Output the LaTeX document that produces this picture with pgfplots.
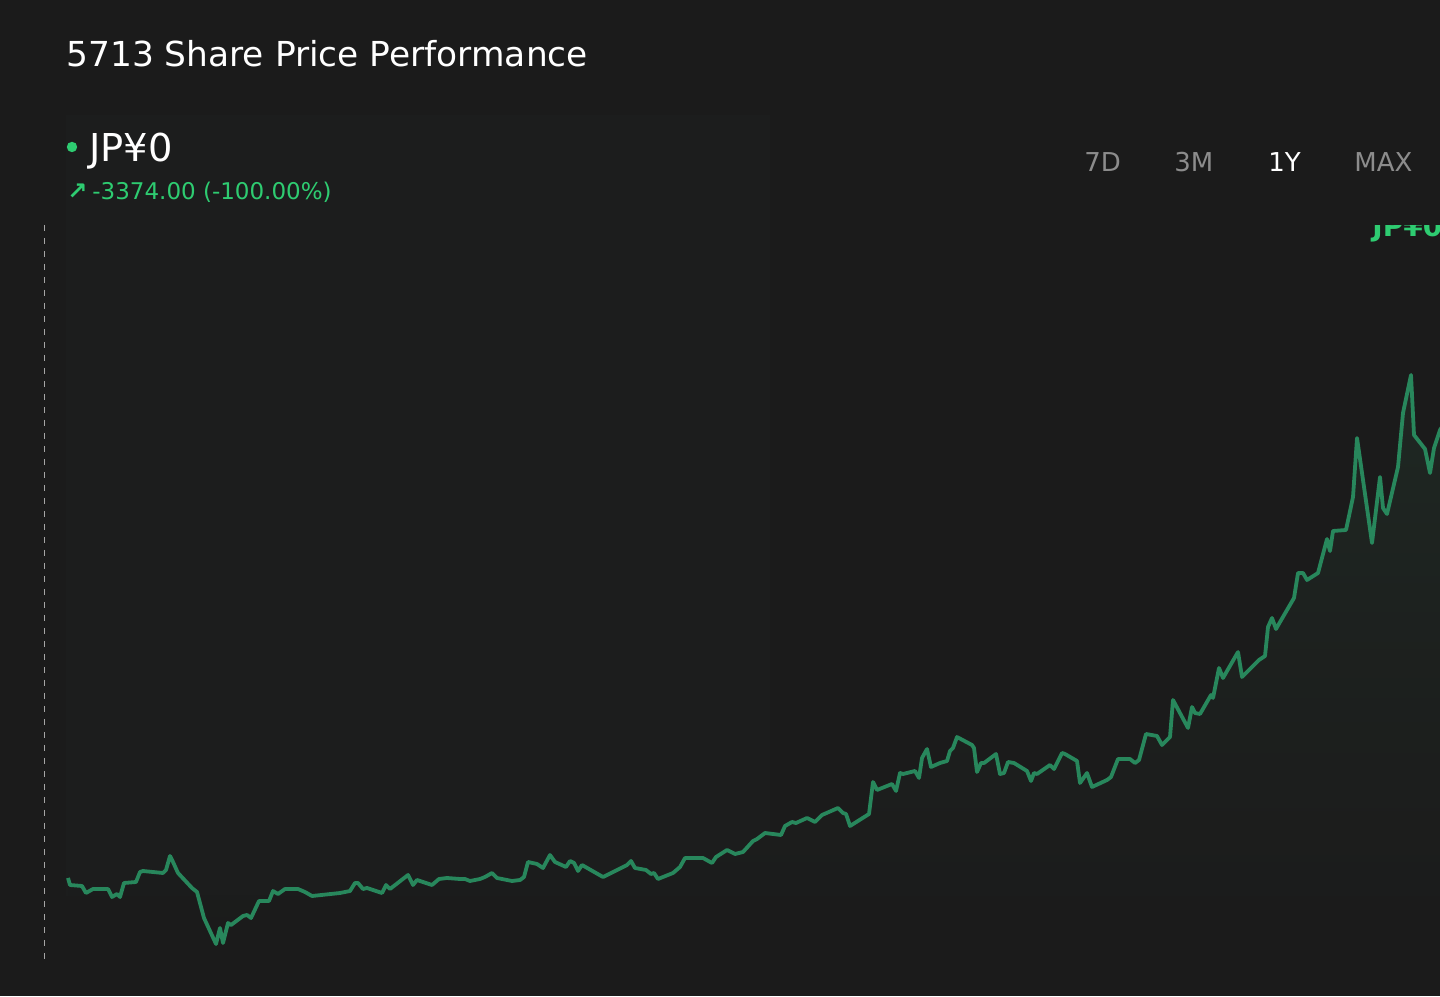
\documentclass[border=0pt]{standalone}
\usepackage{pgfplots}
\pgfplotsset{compat=1.18}
\usepackage{fontspec}
\setmainfont{DejaVu Sans}
\definecolor{bg}{RGB}{27,27,27}
\definecolor{bgl}{RGB}{28,29,29}
\definecolor{linec}{RGB}{40,135,92}
\definecolor{txtg}{RGB}{46,204,113}
\definecolor{btn}{RGB}{140,140,140}
\definecolor{areac}{RGB}{31,40,35}
\begin{document}
\begin{tikzpicture}[x=0.5pt,y=0.5pt]
\fill[bg] (0,0) rectangle (1440,996);
\fill[bgl] (66,881) rectangle (770,100);
\begin{axis}[at={(0,0)}, anchor=south west, scale only axis,
  width=720pt, height=498pt, xmin=0, xmax=1440, ymin=0, ymax=996,
  hide axis, clip=true]
\addplot[draw=none, top color=areac, bottom color=bg, middle color=bg!60!areac, shading angle=0] coordinates {
(68,118)(70,111)(82,110)(86,103)(93,107)(108,107)(112,99)(117,102)(120,99)(124,113)
(136,114)(140,124)(143,125)(163,123)(166,126)(170,140)(173,134)(178,123)(192,108)(197,104)
(204,78)(216,52)(220,68)(223,53)(228,73)(231,71)(243,80)(247,81)(251,78)(259,95)
(269,95)(273,105)(278,102)(285,107)(298,107)(305,104)(312,100)(340,103)(350,105)(355,113)
(358,113)(363,107)(367,108)(382,103)(386,111)(390,107)(408,121)(413,111)(417,116)(432,111)
(439,117)(447,118)(460,117)(465,117)(470,115)(480,117)(485,119)(492,123)(497,118)(512,115)
(520,116)(524,119)(528,134)(537,132)(543,128)(550,141)(555,134)(566,129)(570,135)(574,133)
(578,125)(582,131)(603,119)(627,131)(631,135)(635,128)(646,126)(651,122)(654,123)(658,117)
(673,123)(680,129)(685,138)(703,138)(712,133)(716,139)(727,146)(735,142)(743,144)(753,155)
(757,157)(765,163)(781,161)(785,170)(792,174)(796,173)(807,178)(815,174)(822,181)(838,188)
(843,183)(846,182)(850,170)(869,182)(873,214)(877,206)(892,212)(896,205)(900,223)(903,222)
(915,225)(919,218)(922,238)(927,247)(931,229)(940,233)(947,235)(950,245)(953,248)(957,259)
(972,251)(974,248)(977,224)(981,233)(984,233)(996,242)(1000,222)(1004,223)(1008,234)(1014,233)
(1027,225)(1031,215)(1034,223)(1037,222)(1050,231)(1054,227)(1062,243)(1065,242)(1077,235)(1080,213)
(1087,223)(1092,209)(1107,216)(1111,219)(1118,237)(1130,237)(1135,233)(1139,236)(1146,262)(1157,260)
(1162,251)(1170,259)(1173,296)(1188,268)(1192,289)(1195,283)(1200,282)(1211,301)(1213,298)(1219,328)
(1223,318)(1238,344)(1242,319)(1259,336)(1265,340)(1268,369)(1272,378)(1276,367)(1280,374)(1294,398)
(1298,423)(1303,423)(1307,416)(1318,423)(1327,457)(1330,445)(1333,465)(1346,466)(1353,499)(1357,558)
(1372,453)(1380,519)(1383,488)(1387,482)(1398,529)(1403,583)(1411,621)(1414,561)(1425,547)(1430,523)
(1434,548)(1440,566)(1446,575)(1446,100)(68,100)
};
\addplot[linec, line width=1.9pt, line join=round] coordinates {
(68,118)(70,111)(82,110)(86,103)(93,107)(108,107)(112,99)(117,102)(120,99)(124,113)
(136,114)(140,124)(143,125)(163,123)(166,126)(170,140)(173,134)(178,123)(192,108)(197,104)
(204,78)(216,52)(220,68)(223,53)(228,73)(231,71)(243,80)(247,81)(251,78)(259,95)
(269,95)(273,105)(278,102)(285,107)(298,107)(305,104)(312,100)(340,103)(350,105)(355,113)
(358,113)(363,107)(367,108)(382,103)(386,111)(390,107)(408,121)(413,111)(417,116)(432,111)
(439,117)(447,118)(460,117)(465,117)(470,115)(480,117)(485,119)(492,123)(497,118)(512,115)
(520,116)(524,119)(528,134)(537,132)(543,128)(550,141)(555,134)(566,129)(570,135)(574,133)
(578,125)(582,131)(603,119)(627,131)(631,135)(635,128)(646,126)(651,122)(654,123)(658,117)
(673,123)(680,129)(685,138)(703,138)(712,133)(716,139)(727,146)(735,142)(743,144)(753,155)
(757,157)(765,163)(781,161)(785,170)(792,174)(796,173)(807,178)(815,174)(822,181)(838,188)
(843,183)(846,182)(850,170)(869,182)(873,214)(877,206)(892,212)(896,205)(900,223)(903,222)
(915,225)(919,218)(922,238)(927,247)(931,229)(940,233)(947,235)(950,245)(953,248)(957,259)
(972,251)(974,248)(977,224)(981,233)(984,233)(996,242)(1000,222)(1004,223)(1008,234)(1014,233)
(1027,225)(1031,215)(1034,223)(1037,222)(1050,231)(1054,227)(1062,243)(1065,242)(1077,235)(1080,213)
(1087,223)(1092,209)(1107,216)(1111,219)(1118,237)(1130,237)(1135,233)(1139,236)(1146,262)(1157,260)
(1162,251)(1170,259)(1173,296)(1188,268)(1192,289)(1195,283)(1200,282)(1211,301)(1213,298)(1219,328)
(1223,318)(1238,344)(1242,319)(1259,336)(1265,340)(1268,369)(1272,378)(1276,367)(1280,374)(1294,398)
(1298,423)(1303,423)(1307,416)(1318,423)(1327,457)(1330,445)(1333,465)(1346,466)(1353,499)(1357,558)
(1372,453)(1380,519)(1383,488)(1387,482)(1398,529)(1403,583)(1411,621)(1414,561)(1425,547)(1430,523)
(1434,548)(1440,566)(1446,575)
};
\end{axis}
% dashed vertical guide
\draw[gray!70, line width=0.5pt, dash pattern=on 3pt off 3.5pt] (44,771) -- (44,31);
% title and header texts
\node[anchor=base west, inner sep=0, text=white, font=\fontsize{17.2}{20}\selectfont] at (66,929) {5713 Share Price Performance};
\fill[txtg] (72,849) circle (2.6pt);
\node[anchor=base west, inner sep=0, text=white, font=\fontsize{19.2}{23}\selectfont] at (89,834) {JP¥0};
\node[anchor=base west, inner sep=0, text=txtg, font=\bfseries\fontsize{12}{14}\selectfont] at (67,796) {↗};
\node[anchor=base west, inner sep=0, text=txtg, font=\fontsize{11.5}{13}\selectfont] at (92,796) {-3374.00 (-100.00\%)};
\node[anchor=base west, inner sep=0, text=btn, font=\fontsize{13}{15}\selectfont] at (1084,824) {7D};
\node[anchor=base west, inner sep=0, text=btn, font=\fontsize{13}{15}\selectfont] at (1174,824) {3M};
\node[anchor=base west, inner sep=0, text=white, font=\fontsize{13}{15}\selectfont] at (1268,824) {1Y};
\node[anchor=base west, inner sep=0, text=btn, font=\fontsize{13}{15}\selectfont] at (1354,824) {MAX};
% clipped top-right price label
\begin{scope}
\clip (1300,770) rectangle (1440,740);
\node[anchor=base west, inner sep=0, text=txtg, font=\bfseries\fontsize{14}{16}\selectfont] at (1372,759) {JP¥0};
\end{scope}
\pgfresetboundingbox
\path[use as bounding box] (0,0) rectangle (1440,996);
\end{tikzpicture}
\end{document}
